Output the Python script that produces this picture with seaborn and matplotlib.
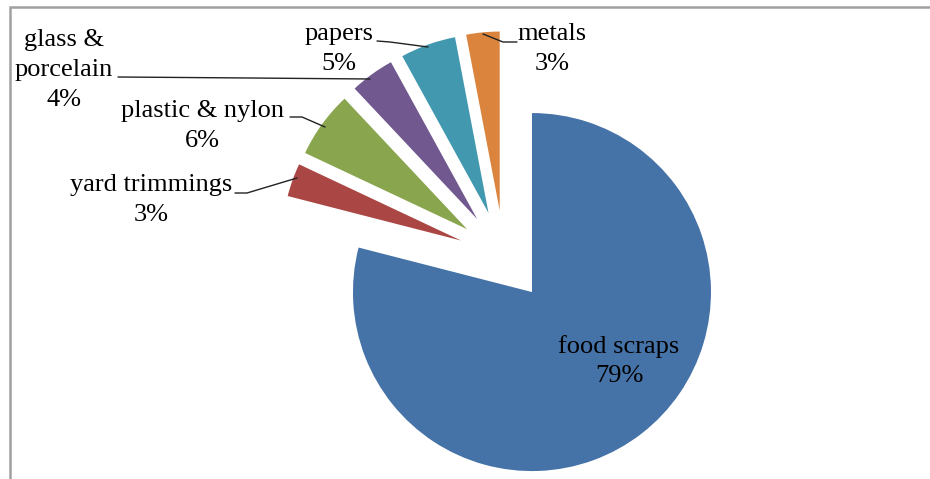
import matplotlib
matplotlib.use("Agg")
import matplotlib.pyplot as plt
import seaborn as sns
from matplotlib.patches import Rectangle

# data
categories = ["food scraps", "yard trimmings", "plastic & nylon",
              "glass &\nporcelain", "papers", "metals"]
shares = [79, 3, 6, 4, 5, 3]
hex_colors = ["#4572A7", "#AA4643", "#89A54E", "#71588F", "#4198AF", "#DB843D"]

# layout (pixel-like coordinates, y up)
W, H = 930, 479
RADIUS = 179
label_pos = [(619, 118), (151, 279), (202, 353), (64, 409), (339, 430), (552, 430)]
leaders = [
    None,
    [(235, 286), (247, 286), (297, 301)],
    [(290, 362), (302, 362), (325, 352)],
    [(118, 402), (250, 401), (370, 400)],
    [(377, 438), (390, 437), (428, 432)],
    [(517, 437), (503, 437), (483, 445)],
]

sns.set_theme(style="white")
plt.rcParams["font.family"] = ["Liberation Serif", "DejaVu Serif"]

fig = plt.figure(figsize=(W / 100, H / 100), dpi=100)
ax = fig.add_axes([0, 0, 1, 1])

palette = sns.color_palette(hex_colors)
# explode is in data units here (matplotlib doesn't scale it by radius)
ax.pie(shares, colors=palette, startangle=90, counterclock=False,
       explode=[0.255 * RADIUS] * len(shares), radius=RADIUS, center=(504, 223),
       wedgeprops=dict(linewidth=0))

for cat, val, (x, y) in zip(categories, shares, label_pos):
    ax.text(x, y, f"{cat}\n{val}%", ha="center", va="center",
            fontsize=19, color="black", linespacing=1.45)

for pts in leaders:
    if pts is None:
        continue
    xs, ys = zip(*pts)
    ax.plot(xs, ys, color="#222222", lw=1.0)

# chart area border (only top/left visible in the crop)
ax.add_patch(Rectangle((10, -20), 940, 492.5, fill=False,
                       edgecolor="#a0a0a0", lw=1.8, clip_on=False))

ax.set_xlim(0, W)
ax.set_ylim(0, H)
ax.set_aspect("equal")
ax.axis("off")

fig.savefig("out.png", dpi=100, facecolor="white")
